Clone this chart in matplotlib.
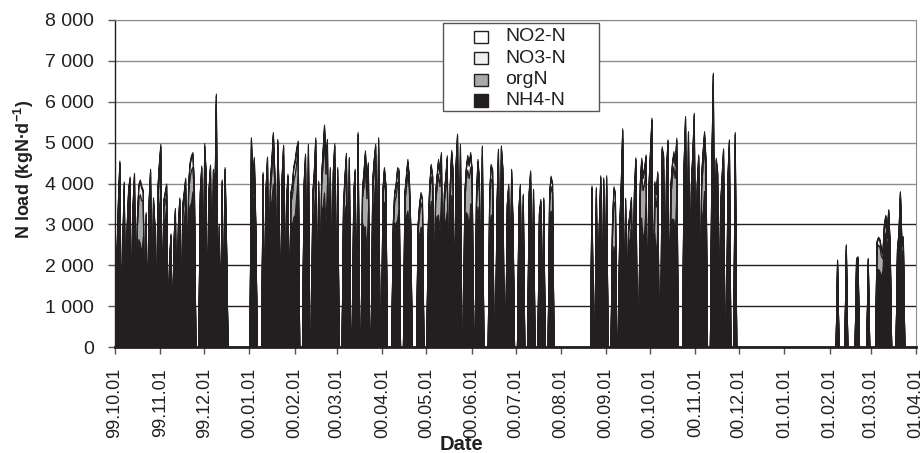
import numpy as np
import pandas as pd
import matplotlib
matplotlib.use('Agg')
from matplotlib import pyplot as plt
from matplotlib.patches import Rectangle
from matplotlib.ticker import FuncFormatter, MultipleLocator
import matplotlib.dates as mdates

plt.rcParams['font.family'] = ['Liberation Sans', 'DejaVu Sans']
plt.rcParams['mathtext.fontset'] = 'custom'
plt.rcParams['mathtext.rm'] = 'Liberation Sans'
plt.rcParams['mathtext.bf'] = 'Liberation Sans:bold'

# days with a load (offset from 1999-10-01), all other days are 0
day = [1, 2, 3, 5, 6, 8, 9, 10, 12, 13,
       15, 16, 17, 18, 19, 21, 23, 24, 26, 27,
       29, 30, 31, 33, 34, 35, 37, 38, 40, 41,
       43, 44, 46, 47, 48, 50, 51, 52, 53, 54,
       58, 59, 61, 62, 64, 65, 67, 68, 69, 71,
       73, 75, 76,
       93, 94, 95, 96, 101, 103, 104, 106, 107, 108,
       109, 111, 112, 114, 115, 117, 118, 120, 121, 122,
       123, 124, 125, 129, 130, 132, 135, 136, 137, 139,
       141, 142, 143, 144, 145, 147, 149, 150, 152, 156,
       157, 158, 160, 163, 164, 166, 169, 170, 171, 172,
       173, 176, 177, 178, 180, 183, 184, 185, 190, 191,
       192, 193, 194, 198, 199, 200, 201, 202, 207, 208,
       209, 210, 214, 215, 216, 217, 219, 220, 221, 222,
       223, 225, 226, 227, 229, 230, 231, 233, 234, 236,
       239, 240, 241, 242, 243, 244, 247, 248, 249, 251,
       256, 257, 258, 261, 262, 264, 265, 268, 269, 271,
       272, 276, 277, 279, 283, 284, 286, 290, 291, 293,
       297, 298, 299,
       326, 329, 331, 332, 334, 336, 340, 341, 342,
       345, 346, 347, 349, 351, 352, 353, 355, 356, 359,
       360, 361, 362, 363, 365, 366, 367, 369, 370, 371,
       374, 375, 377, 378, 380, 381, 382, 383, 384, 389,
       390, 392, 394, 395, 396, 398, 399, 401, 402, 403,
       404, 408, 409, 411, 412, 414, 415, 416, 419, 420,
       424,
       494, 500, 507, 508, 515, 521, 522, 523, 524, 525,
       526, 527, 528, 529, 530, 535, 536, 537, 538, 539]

# total N load, 100 kgN/d
total = [23, 36, 45.6, 26, 40.5, 30, 39, 41.7, 35, 42.6,
         32, 40, 41, 39.5, 38.5, 33, 36, 43.6, 36.6, 30,
         39, 45, 49.7, 36, 38, 40, 22, 27.8, 26, 34,
         30, 36.6, 35, 38, 41.4, 40, 45.2, 47, 47.7, 39,
         38, 44.4, 49.9, 43, 39, 44.6, 43.6, 35, 62, 30,
         41, 44, 25,
         51.3, 40, 46.5, 30, 42.8, 39, 46.6, 41, 46, 52.6,
         43, 50.9, 37, 42, 49.5, 36, 42.4, 38, 40, 44.4,
         46, 48.9, 50.5, 40, 47.3, 49.7, 38, 43, 51.3, 40.7,
         42, 48, 54.4, 46, 50.9, 44, 43, 49.9, 44, 35,
         42, 47.5, 46.5, 38, 43.6, 52.6, 39, 43, 48.1, 40,
         45.2, 41, 46, 49.7, 51.3, 39, 44, 39.9, 30, 38,
         40, 44, 43.6, 38, 42, 46, 42, 30, 30, 35,
         37.9, 36.6, 30, 40, 44.8, 42, 38, 42, 46, 43,
         47.7, 38, 42, 46.9, 40, 48.2, 43, 45, 52.2, 49.7,
         38, 44, 47, 45, 47.7, 43.6, 38, 46, 41, 49.3,
         38, 44.8, 43.6, 35, 48.5, 49.3, 44, 35, 39.9, 43.6,
         30, 34, 39.9, 37.5, 38, 43.2, 38.7, 33, 36.2, 36.6,
         38, 41.9, 40.3,
         39.5, 39.1, 30, 42, 41.5, 42, 30, 39.3, 38,
         30, 40, 53.5, 36.5, 30, 33, 36.7, 38, 46.4, 40,
         46.3, 42, 44, 47.1, 40, 48, 56.1, 40.6, 38, 43,
         49.1, 47.1, 44, 50.8, 40, 45, 47.9, 45, 51.2, 45,
         56.5, 52.8, 40, 48, 57.3, 40, 47.1, 42, 48, 52.8,
         46, 45, 67.1, 46.3, 43, 35, 42, 48.6, 42, 50.8,
         52.6,
         21.4, 25.1, 21.8, 22.2, 21.8, 26, 27, 26.5, 24.3, 23,
         30, 32.3, 28, 33.7, 25, 24.3, 28, 38.1, 26, 27.1]

# orgN part, 100 kgN/d
orgn = [2, 3, 3, 2, 3, 3, 4, 3, 3, 3,
        6, 10, 12, 13, 9, 3, 5, 6, 4, 3,
        4, 7, 9, 3, 4, 3, 2, 3, 3, 5,
        4, 6, 4, 5, 4, 5, 7, 8, 6, 4,
        4, 6, 5, 6, 3, 4, 3, 3, 3, 3,
        3, 3, 2,
        3, 4, 5, 3, 3, 3, 4, 5, 7, 9,
        10, 4, 3, 4, 5, 3, 4, 5, 7, 9,
        10, 8, 6, 4, 8, 7, 4, 7, 8, 4,
        6, 10, 13, 12, 8, 4, 6, 9, 5, 4,
        6, 9, 7, 4, 6, 5, 6, 10, 15, 13,
        9, 5, 7, 6, 5, 4, 6, 4, 3, 5,
        7, 9, 7, 5, 7, 9, 8, 3, 3, 5,
        6, 5, 3, 5, 6, 5, 5, 7, 10, 11,
        8, 5, 8, 10, 9, 8, 6, 5, 4, 5,
        5, 8, 11, 12, 9, 6, 5, 8, 7, 5,
        6, 9, 8, 5, 8, 9, 7, 6, 9, 5,
        3, 4, 5, 4, 4, 5, 5, 4, 5, 4,
        4, 6, 5,
        3, 3, 3, 5, 6, 4, 8, 11, 12,
        3, 4, 4, 3, 3, 4, 4, 5, 6, 8,
        11, 12, 12, 9, 5, 6, 5, 9, 12, 11,
        10, 11, 6, 7, 7, 10, 13, 13, 10, 5,
        5, 6, 4, 6, 5, 5, 6, 9, 11, 11,
        10, 6, 5, 11, 10, 4, 5, 5, 4, 5,
        4,
        2, 2, 2, 2, 2, 5, 6, 6, 5, 3,
        3, 3, 3, 3, 2, 2, 2, 3, 2, 2]

# NO3-N part, 100 kgN/d
no3 = [1.5, 2, 2, 1.5, 2, 2, 2, 2, 2, 2,
       2, 3, 3, 3, 2, 2, 2, 3, 2, 2,
       2, 3, 3, 2, 2, 2, 1.5, 2, 2, 2,
       2, 2, 2, 2, 2, 2, 3, 3, 3, 2,
       2, 2.5, 3, 3, 2, 2, 2, 2, 2, 2,
       2, 2, 1.5,
       2, 2, 2, 1.5, 2, 2, 2, 2, 2.5, 3,
       3, 2, 2, 2, 2, 2, 2, 2, 2.5, 3,
       3, 3, 2, 2, 3, 2.5, 2, 2.5, 3, 2,
       2, 3, 3, 3, 2.5, 2, 2, 3, 2, 2,
       2, 3, 2.5, 2, 2, 2, 2, 3, 3, 3,
       2.5, 2, 2.5, 2, 2, 2, 2, 2, 1.5, 2,
       2.5, 3, 2.5, 2, 2.5, 3, 2.5, 1.5, 1.5, 2,
       2, 2, 1.5, 2, 2.5, 2, 2, 2.5, 3, 3,
       2.5, 2, 2.5, 3, 3, 2.5, 2, 2, 2, 2,
       2, 2.5, 3, 3, 3, 2, 2, 3, 2.5, 2,
       2, 3, 2.5, 2, 3, 3, 2, 2, 3, 2,
       1.5, 2, 2, 2, 2, 2, 2, 2, 2, 2,
       2, 2, 2,
       2, 2, 1.5, 2, 2, 2, 2.5, 3, 3,
       1.5, 2, 2, 2, 1.5, 2, 2, 2, 2, 2.5,
       3, 3, 3, 2.5, 2, 2, 2, 3, 3, 3,
       3, 3, 2, 2.5, 2.5, 3, 3, 3, 3, 2,
       2, 2, 2, 2, 2, 2, 2, 2.5, 3, 3,
       3, 2, 2, 3, 3, 2, 2, 2, 2, 2,
       2,
       1, 1, 1, 1, 1, 1.5, 1.5, 1.5, 1.5, 1,
       1, 1, 1, 1, 1, 1, 1, 1, 1, 1]

# NO2-N part, 100 kgN/d
no2 = [0.4, 0.5, 0.5, 0.4, 0.5, 0.5, 0.5, 0.5, 0.5, 0.5,
       0.5, 0.6, 0.6, 0.6, 0.5, 0.5, 0.5, 0.6, 0.5, 0.5,
       0.5, 0.6, 0.6, 0.5, 0.5, 0.5, 0.4, 0.5, 0.5, 0.5,
       0.5, 0.5, 0.5, 0.5, 0.5, 0.5, 0.6, 0.6, 0.6, 0.5,
       0.5, 0.5, 0.6, 0.6, 0.5, 0.5, 0.5, 0.5, 0.5, 0.5,
       0.5, 0.5, 0.4,
       0.5, 0.5, 0.5, 0.4, 0.5, 0.5, 0.5, 0.5, 0.5, 0.6,
       0.6, 0.5, 0.5, 0.5, 0.5, 0.5, 0.5, 0.5, 0.5, 0.6,
       0.6, 0.6, 0.5, 0.5, 0.6, 0.5, 0.5, 0.5, 0.6, 0.5,
       0.5, 0.6, 0.6, 0.6, 0.5, 0.5, 0.5, 0.6, 0.5, 0.5,
       0.5, 0.6, 0.5, 0.5, 0.5, 0.5, 0.5, 0.6, 0.6, 0.6,
       0.5, 0.5, 0.5, 0.5, 0.5, 0.5, 0.5, 0.5, 0.4, 0.5,
       0.5, 0.6, 0.5, 0.5, 0.5, 0.6, 0.5, 0.4, 0.4, 0.5,
       0.5, 0.5, 0.4, 0.5, 0.5, 0.5, 0.5, 0.5, 0.6, 0.6,
       0.5, 0.5, 0.5, 0.6, 0.6, 0.5, 0.5, 0.5, 0.5, 0.5,
       0.5, 0.5, 0.6, 0.6, 0.6, 0.5, 0.5, 0.6, 0.5, 0.5,
       0.5, 0.6, 0.5, 0.5, 0.6, 0.6, 0.5, 0.5, 0.6, 0.5,
       0.4, 0.5, 0.5, 0.5, 0.5, 0.5, 0.5, 0.5, 0.5, 0.5,
       0.5, 0.5, 0.5,
       0.5, 0.5, 0.4, 0.5, 0.5, 0.5, 0.5, 0.6, 0.6,
       0.4, 0.5, 0.5, 0.5, 0.4, 0.5, 0.5, 0.5, 0.5, 0.5,
       0.6, 0.6, 0.6, 0.5, 0.5, 0.5, 0.5, 0.6, 0.6, 0.6,
       0.6, 0.6, 0.5, 0.5, 0.5, 0.6, 0.6, 0.6, 0.6, 0.5,
       0.5, 0.5, 0.5, 0.5, 0.5, 0.5, 0.5, 0.5, 0.6, 0.6,
       0.6, 0.5, 0.5, 0.6, 0.6, 0.5, 0.5, 0.5, 0.5, 0.5,
       0.5,
       0.3, 0.3, 0.3, 0.3, 0.3, 0.4, 0.4, 0.4, 0.4, 0.3,
       0.3, 0.3, 0.3, 0.3, 0.3, 0.3, 0.3, 0.3, 0.3, 0.3]

series_names = ['NH4-N', 'orgN', 'NO3-N', 'NO2-N']
series_colors = ['#231f20', '#a7a9ac', '#f1f1f2', '#ffffff']
month_ticks = pd.date_range('1999-10-01', '2001-04-01', freq='MS')

assert len(day) == len(total) == len(orgn) == len(no3) == len(no2)

dates = pd.date_range('1999-10-01', '2001-04-01', freq='D')


def daily(values):
    arr = np.zeros(len(dates))
    arr[day] = np.array(values, dtype=float) * 100
    return arr


tot_d = daily(total)
org_d = daily(orgn)
no3_d = daily(no3)
no2_d = daily(no2)
nh4_d = tot_d - org_d - no3_d - no2_d

W, H = 923, 453


def fx(px):
    return px / W


def fy(py):
    return 1 - py / H


fig = plt.figure(figsize=(W / 100, H / 100), dpi=100)
ax = fig.add_axes([fx(115), fy(347), 801 / W, 327 / H])

for v in range(1000, 8001, 1000):
    ax.axhline(v, color='#231f20' if v <= 3000 else '#8c8c8c', lw=1.0, zorder=0)

ax.stackplot(dates, nh4_d, org_d, no3_d, no2_d, colors=series_colors,
             edgecolor='#231f20', linewidth=0.8, zorder=2)

ax.set_xlim(dates[0], dates[-1])
ax.set_ylim(0, 8000)
ax.yaxis.set_major_locator(MultipleLocator(1000))
ax.yaxis.set_major_formatter(FuncFormatter(lambda v, p: f'{int(v):,}'.replace(',', ' ')))
ax.set_xticks(month_ticks)
ax.xaxis.set_major_formatter(mdates.DateFormatter('%y.%m.%d'))
ax.tick_params(axis='x', direction='out', length=5, width=1, color='#555555',
               labelsize=13, labelrotation=90, pad=10)
ax.tick_params(axis='y', direction='out', length=5, width=1, color='#555555',
               labelsize=14, pad=10)
for lab in ax.get_xticklabels() + ax.get_yticklabels():
    lab.set_color('#231f20')

ax.spines['left'].set_color('#231f20')
ax.spines['left'].set_linewidth(1.0)
ax.spines['bottom'].set_color('#231f20')
ax.spines['bottom'].set_linewidth(2.0)
ax.spines['bottom'].set_zorder(3)
ax.spines['top'].set_color('#8c8c8c')
ax.spines['right'].set_color('#8c8c8c')

fig.text(fx(24), fy(169), 'N load (kgN·d$^{\\mathbf{-1}}$)', rotation=90,
         ha='center', va='center', fontsize=13, fontweight='bold', color='#231f20')
fig.text(fx(462), fy(445), 'Date', ha='center', va='center',
         fontsize=14.5, fontweight='bold', color='#231f20')

# legend box, drawn by hand to follow the reference spacing
fig.add_artist(Rectangle((fx(443), fy(111)), (599 - 443) / W, (111 - 23) / H,
                         transform=fig.transFigure, facecolor='white',
                         edgecolor='#555555', lw=1.0, zorder=5))
row_y = [36.7, 58.3, 80, 100.5]
for yy, name, col in zip(row_y, series_names[::-1], series_colors[::-1]):
    fig.add_artist(Rectangle((fx(474), fy(yy + 6)), 14 / W, 12 / H,
                             transform=fig.transFigure, facecolor=col,
                             edgecolor='#231f20', lw=1.0, zorder=6))
    fig.text(fx(505), fy(yy), name, ha='left', va='center', fontsize=14,
             color='#231f20', zorder=6)

fig.savefig('out.png', dpi=100)
